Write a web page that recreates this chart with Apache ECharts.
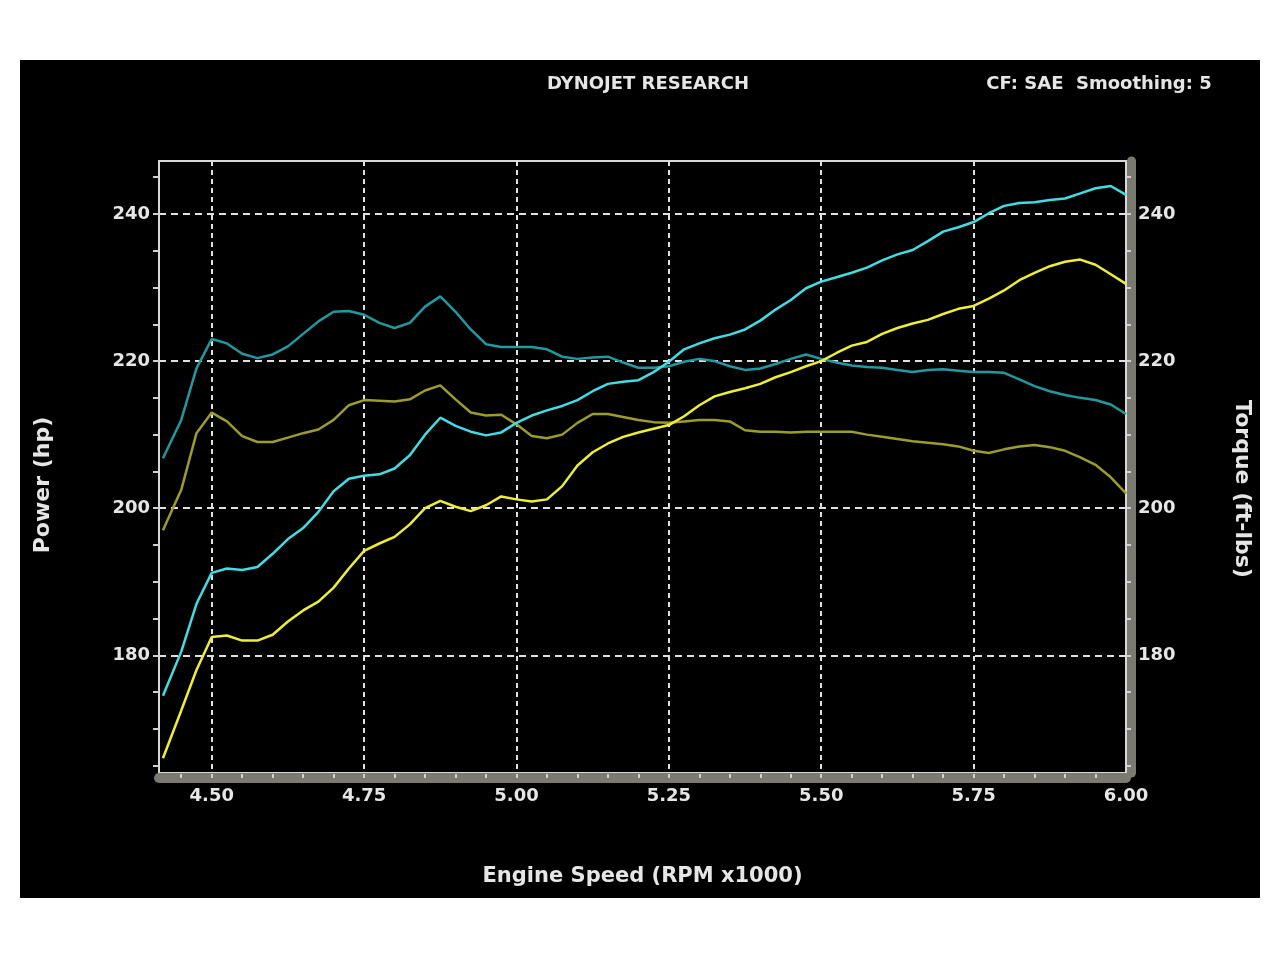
<!DOCTYPE html>
<html>
<head>
<meta charset="utf-8">
<script src="https://cdn.jsdelivr.net/npm/echarts@6/dist/echarts.min.js"></script>
<style>
  html, body { margin: 0; padding: 0; background: #ffffff; }
  #bg { position: absolute; left: 20px; top: 60px; width: 1240px; height: 838px; background: #000000; }
  #chart { position: absolute; left: 0; top: 0; width: 1280px; height: 959px; }
</style>
</head>
<body>
<div id="bg"></div>
<div id="chart"></div>
<script>
// ---- data ----
const rpm = [4.42, 4.45, 4.475, 4.50, 4.525, 4.55, 4.575, 4.60, 4.625, 4.65, 4.675, 4.70, 4.725, 4.75, 4.775,
  4.80, 4.825, 4.85, 4.875, 4.90, 4.925, 4.95, 4.975, 5.00, 5.025, 5.05, 5.075, 5.10, 5.125, 5.15, 5.175,
  5.20, 5.225, 5.25, 5.275, 5.30, 5.325, 5.35, 5.375, 5.40, 5.425, 5.45, 5.475, 5.50, 5.525, 5.55, 5.575,
  5.60, 5.625, 5.65, 5.675, 5.70, 5.725, 5.75, 5.775, 5.80, 5.825, 5.85, 5.875, 5.90, 5.925, 5.95, 5.975, 6.00];

const powerAfter = [174.5, 180.5, 187.0, 191.2, 191.8, 191.6, 192.0, 193.8, 195.8, 197.3, 199.5, 202.3, 204.0, 204.4, 204.6,
  205.4, 207.2, 210.0, 212.3, 211.2, 210.4, 209.9, 210.3, 211.6, 212.6, 213.3, 213.9, 214.7, 215.9, 216.9, 217.2,
  217.4, 218.5, 219.9, 221.6, 222.4, 223.1, 223.6, 224.3, 225.5, 227.0, 228.3, 229.9, 230.8, 231.4, 232.0, 232.7,
  233.7, 234.5, 235.1, 236.3, 237.6, 238.2, 238.9, 240.1, 241.1, 241.5, 241.6, 241.9, 242.1, 242.8, 243.5, 243.8, 242.6];

const torqueAfter = [206.8, 212.0, 219.0, 223.0, 222.4, 221.0, 220.4, 220.9, 222.0, 223.7, 225.4, 226.7, 226.8, 226.3, 225.2,
  224.5, 225.2, 227.4, 228.8, 226.7, 224.3, 222.3, 221.9, 221.9, 221.9, 221.6, 220.6, 220.3, 220.5, 220.6, 219.8,
  219.1, 219.1, 219.3, 219.9, 220.3, 220.0, 219.3, 218.8, 219.0, 219.6, 220.3, 220.9, 220.3, 219.8, 219.4, 219.2,
  219.1, 218.8, 218.5, 218.8, 218.9, 218.7, 218.5, 218.5, 218.4, 217.5, 216.6, 215.9, 215.4, 215.0, 214.7, 214.1, 212.8];

const powerBefore = [166.0, 172.5, 178.0, 182.5, 182.7, 182.0, 182.0, 182.8, 184.6, 186.1, 187.3, 189.2, 191.8, 194.2, 195.2,
  196.1, 197.8, 200.0, 201.0, 200.2, 199.6, 200.4, 201.6, 201.2, 200.9, 201.2, 203.0, 205.8, 207.6, 208.8, 209.7,
  210.3, 210.8, 211.3, 212.5, 214.0, 215.2, 215.8, 216.3, 216.9, 217.8, 218.5, 219.3, 220.0, 221.1, 222.1, 222.6,
  223.7, 224.5, 225.1, 225.6, 226.4, 227.1, 227.5, 228.5, 229.6, 231.0, 232.0, 232.9, 233.5, 233.8, 233.1, 231.8, 230.5];

const torqueBefore = [197.0, 202.5, 210.2, 213.0, 211.8, 209.8, 209.0, 209.0, 209.6, 210.2, 210.7, 212.0, 214.0, 214.7, 214.6,
  214.5, 214.8, 216.0, 216.7, 214.8, 213.0, 212.6, 212.7, 211.4, 209.8, 209.5, 210.0, 211.6, 212.8, 212.8, 212.4,
  212.0, 211.7, 211.6, 211.8, 212.0, 212.0, 211.8, 210.6, 210.4, 210.4, 210.3, 210.4, 210.4, 210.4, 210.4, 210.0,
  209.7, 209.4, 209.1, 208.9, 208.7, 208.4, 207.8, 207.5, 208.0, 208.4, 208.6, 208.3, 207.8, 206.9, 205.9, 204.2, 202.0];

const xLabelTicks = [4.50, 4.75, 5.00, 5.25, 5.50, 5.75, 6.00];
const xMinorTicks = [4.45, 4.50, 4.55, 4.60, 4.65, 4.70, 4.75, 4.80, 4.85, 4.90, 4.95, 5.00, 5.05, 5.10, 5.15,
  5.20, 5.25, 5.30, 5.35, 5.40, 5.45, 5.50, 5.55, 5.60, 5.65, 5.70, 5.75, 5.80, 5.85, 5.90, 5.95];
const yLabelTicks = [180, 200, 220, 240];
const yMinorTicks = [165, 170, 175, 180, 185, 190, 195, 200, 205, 210, 215, 220, 225, 230, 235, 240, 245];

const titleText = 'DYNOJET RESEARCH';
const infoText = 'CF: SAE  Smoothing: 5';
const xName = 'Engine Speed (RPM x1000)';
const yLeftName = 'Power (hp)';
const yRightName = 'Torque (ft-lbs)';

// ---- chart ----
const X_MIN = 4.4135, X_MAX = 6.0, Y_MIN = 164, Y_MAX = 247.2;
const FONT = 'DejaVu Sans';
const TXT = '#e6e6e6';
const BAR = '#7a7a70';
const pairs = vals => rpm.map((r, i) => [r, vals[i]]);

const chart = echarts.init(document.getElementById('chart'), null, { renderer: 'canvas' });
chart.setOption({
  backgroundColor: 'transparent',
  animation: false,
  title: [
    { text: titleText, left: 643, top: 70, textAlign: 'center',
      textStyle: { color: TXT, fontFamily: FONT, fontWeight: 'bold', fontSize: 18 } },
    { text: infoText, left: 1094, top: 70, textAlign: 'center',
      textStyle: { color: TXT, fontFamily: FONT, fontWeight: 'bold', fontSize: 18 } }
  ],
  grid: { left: 159, right: 154, top: 161, bottom: 186, show: true, borderColor: '#d8d8d8', borderWidth: 2, backgroundColor: 'transparent' },
  xAxis: [
    {
      type: 'value', min: X_MIN, max: X_MAX, position: 'bottom', offset: 5,
      name: xName, nameLocation: 'middle', nameGap: 88,
      nameTextStyle: { color: TXT, fontFamily: FONT, fontWeight: 'bold', fontSize: 21 },
      axisLine: { show: true, lineStyle: { color: BAR, width: 10 } },
      axisTick: { show: true, inside: true, length: 4, customValues: xMinorTicks, lineStyle: { color: '#d0d0d0', width: 2 } },
      axisLabel: { show: true, customValues: xLabelTicks, margin: 9, color: TXT, fontFamily: FONT, fontWeight: 'bold', fontSize: 18,
        formatter: v => Number(v).toFixed(2) },
      splitLine: { show: false }
    },
    {
      type: 'value', min: X_MIN, max: X_MAX, position: 'bottom',
      axisLine: { show: false },
      axisTick: { show: false, customValues: xLabelTicks.slice(0, 6) },
      axisLabel: { show: false },
      splitLine: { show: true, lineStyle: { color: '#e0e0e0', width: 2, type: [5, 4] } }
    }
  ],
  yAxis: [
    {
      type: 'value', min: Y_MIN, max: Y_MAX, position: 'left',
      name: yLeftName, nameLocation: 'middle', nameGap: 105, nameRotate: 90,
      nameTextStyle: { color: TXT, fontFamily: FONT, fontWeight: 'bold', fontSize: 22, padding: [0, 36, 0, 0] },
      axisLine: { show: true, lineStyle: { color: '#d8d8d8', width: 2 } },
      axisTick: { show: true, inside: false, length: 6, customValues: yMinorTicks, lineStyle: { color: '#d0d0d0', width: 2 } },
      axisLabel: { show: true, customValues: yLabelTicks, margin: 9, color: TXT, fontFamily: FONT, fontWeight: 'bold', fontSize: 18 },
      splitLine: { show: false }
    },
    {
      type: 'value', min: Y_MIN, max: Y_MAX, position: 'right', offset: 5,
      name: yRightName, nameLocation: 'middle', nameGap: 100, nameRotate: -90,
      nameTextStyle: { color: TXT, fontFamily: FONT, fontWeight: 'bold', fontSize: 22, padding: [0, 0, 0, 44] },
      axisLine: { show: true, lineStyle: { color: BAR, width: 9 } },
      axisTick: { show: true, inside: true, length: 4, customValues: yMinorTicks, lineStyle: { color: '#d0d0d0', width: 2 } },
      axisLabel: { show: true, customValues: yLabelTicks, margin: 7, color: TXT, fontFamily: FONT, fontWeight: 'bold', fontSize: 18 },
      splitLine: { show: false }
    },
    {
      type: 'value', min: Y_MIN, max: Y_MAX, position: 'left',
      axisLine: { show: false },
      axisTick: { show: false, customValues: yLabelTicks },
      axisLabel: { show: false },
      splitLine: { show: true, lineStyle: { color: '#e0e0e0', width: 2, type: [7, 5] } }
    }
  ],
  series: [
    { name: 'Torque (before)', type: 'line', data: pairs(torqueBefore), showSymbol: false, z: 2,
      lineStyle: { color: '#9c9c2c', width: 2.5 }, itemStyle: { color: '#9c9c2c' } },
    { name: 'Torque (after)', type: 'line', data: pairs(torqueAfter), showSymbol: false, z: 3,
      lineStyle: { color: '#2099a0', width: 2.5 }, itemStyle: { color: '#2099a0' } },
    { name: 'Power (before)', type: 'line', data: pairs(powerBefore), showSymbol: false, z: 4,
      lineStyle: { color: '#eeee34', width: 2.5 }, itemStyle: { color: '#eeee34' } },
    { name: 'Power (after)', type: 'line', data: pairs(powerAfter), showSymbol: false, z: 5,
      lineStyle: { color: '#40dde4', width: 2.5 }, itemStyle: { color: '#40dde4' } }
  ]
});
</script>
</body>
</html>
